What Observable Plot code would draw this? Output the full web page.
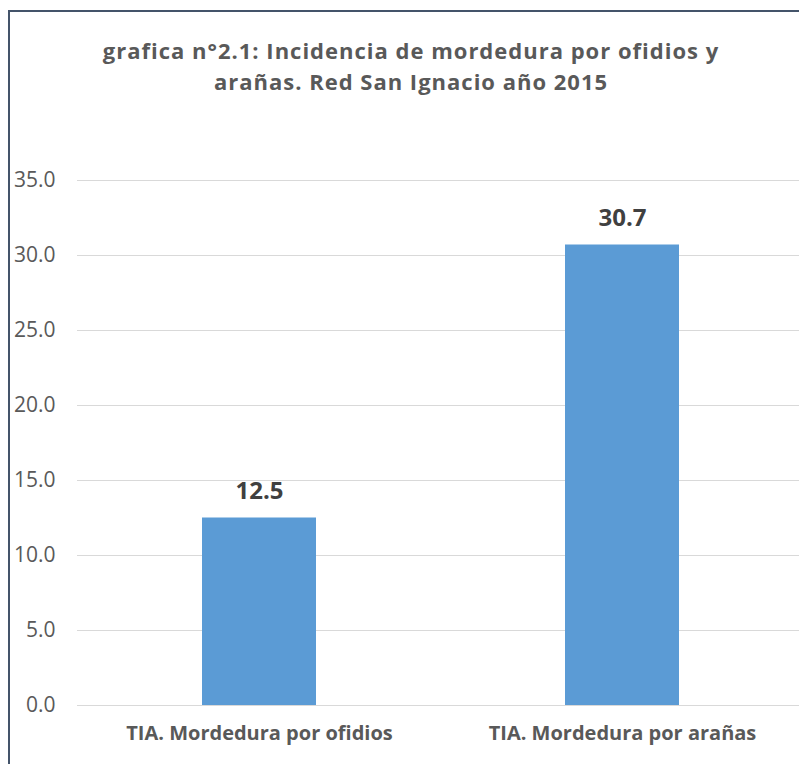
<!DOCTYPE html>
<html>
<head>
<meta charset="utf-8">
<script src="https://cdn.jsdelivr.net/npm/d3@7"></script>
<script src="https://cdn.jsdelivr.net/npm/@observablehq/plot@0.6"></script>
<style>
  html, body { margin: 0; padding: 0; background: #fff; }
  #wrap { position: relative; width: 799px; height: 764px; overflow: hidden; background: #fff; font-family: "Open Sans", Lato, sans-serif; }
  #frameTop { position: absolute; left: 8px; top: 10px; width: 800px; height: 2px; background: #44546a; }
  #frameLeft { position: absolute; left: 8px; top: 10px; width: 2px; height: 760px; background: #44546a; }
  #title { position: absolute; left: 0; top: 0; width: 822px; height: 150px; text-align: center; color: #595959; font-weight: bold; font-size: 22px; letter-spacing: 1px; line-height: 31px; padding-top: 35px; box-sizing: border-box; }
  #chart { position: absolute; left: 0; top: 150px; }
</style>
</head>
<body>
<div id="wrap">
  <div id="title">grafica n°2.1: Incidencia de mordedura por ofidios y<br>arañas. Red San Ignacio año 2015</div>
  <div id="chart"></div>
  <div id="frameTop"></div>
  <div id="frameLeft"></div>
</div>
<script>
const categories = ["TIA. Mordedura por ofidios", "TIA. Mordedura por arañas"];
const values = [12.5, 30.7];
const yTicks = [0, 5, 10, 15, 20, 25, 30, 35];

const data = categories.map((c, i) => ({category: c, value: values[i]}));

const chart = Plot.plot({
  width: 799,
  height: 614,
  marginTop: 30,
  marginBottom: 59,
  marginLeft: 77,
  marginRight: -5,
  style: {fontFamily: "'Open Sans', Lato, sans-serif", background: "transparent", overflow: "visible"},
  x: {domain: categories, paddingInner: 0.686, paddingOuter: 0.343, label: null},
  y: {domain: [0, 35], label: null},
  marks: [
    Plot.gridY(yTicks, {stroke: "#d9d9d9", strokeOpacity: 1, strokeWidth: 1}),
    Plot.axisY(yTicks, {tickSize: 0, tickPadding: 22, tickFormat: d => d.toFixed(1), fontSize: 21, fill: "#595959", label: null}),
    Plot.axisX({tickSize: 0, tickPadding: 20, fontSize: 20, fontWeight: "bold", fill: "#595959", label: null}),
    Plot.barY(data, {x: "category", y: "value", fill: "#5b9bd5"}),
    Plot.text(data, {x: "category", y: "value", text: d => d.value.toFixed(1), dy: -27, fontSize: 24, fontWeight: "bold", fill: "#404040"})
  ]
});
document.getElementById("chart").appendChild(chart);
</script>
</body>
</html>
